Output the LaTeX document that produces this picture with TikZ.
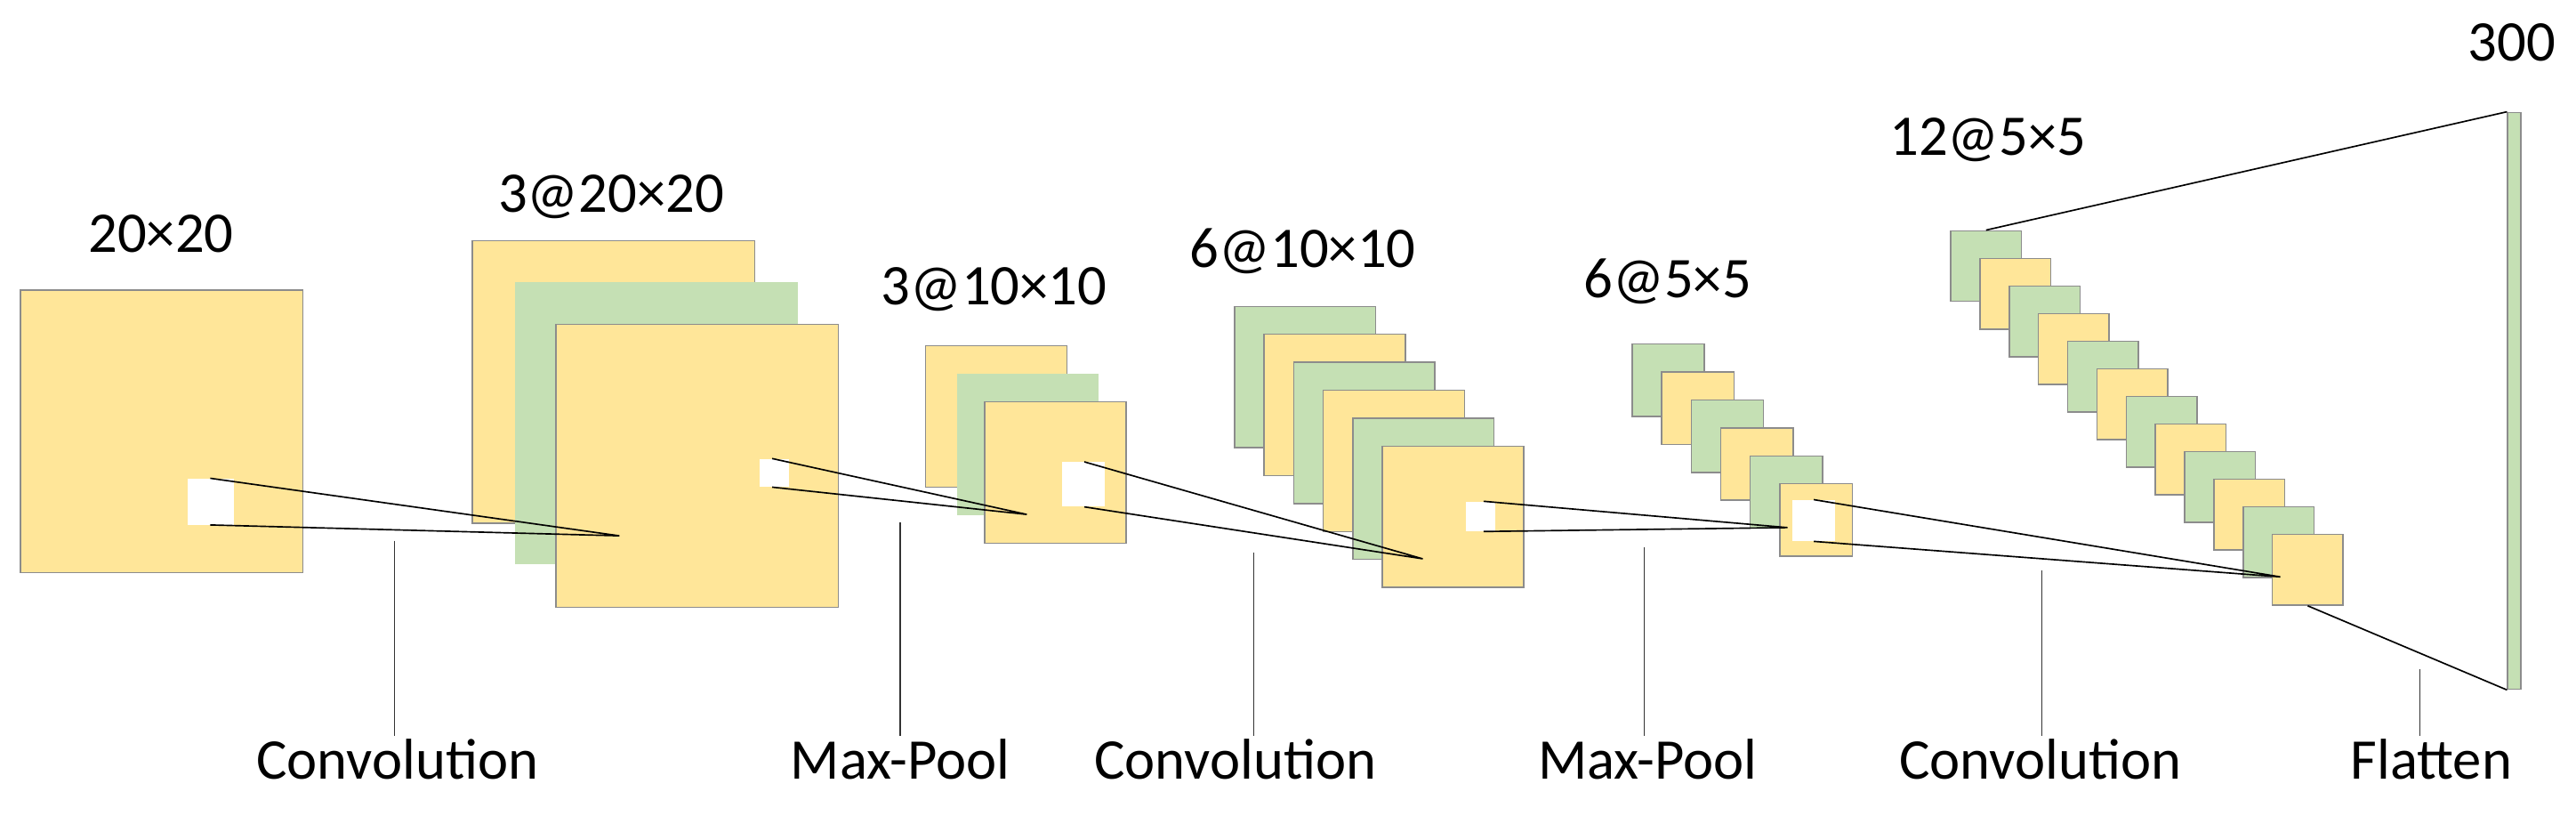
\documentclass[tikz,border=0pt]{standalone}
\usepackage{fontspec}
\setmainfont{Carlito}
\usetikzlibrary{positioning}
\definecolor{fmyellow}{HTML}{FFE699}
\definecolor{fmgreen}{HTML}{C5E0B4}
\tikzset{
  fmap/.style={draw=black!45, line width=0.8pt, anchor=north west, inner sep=0pt, minimum width=#1, minimum height=#1},
  patch/.style={fill=white, draw=none, anchor=north west, inner sep=0pt},
  lbl/.style={font=\fontsize{35}{42}\selectfont},
  link/.style={line width=0.9pt},
  tick/.style={line width=0.7pt, black!80}
}
\begin{document}
\begin{tikzpicture}[x=1pt,y=-1pt]
    \useasboundingbox (0,0) rectangle (1568,496);

    % Input
    \node[fmap=172, fill=fmyellow] (in) at (12,176) {};
    \node[lbl] (inl) at (98,142) {20×20};
    \node[patch, minimum width=28, minimum height=28] (p0) at (114,291) {};

    % Convolution 1
    \node[fmap=172, fill=fmyellow] (c1a) at (287,146) {};
    \node[fmap=172, fill=fmgreen, draw=none] (c1b) at (313,171) {};
    \node[fmap=172, fill=fmyellow] (c1c) at (338,197) {};
    \node[lbl] (c1l) at (372,120) {3@20×20};
    \node[patch, minimum width=18, minimum height=17] (p1) at (462,279) {};
    \coordinate (t1) at (377,326);

    % Max-Pool 1
    \node[fmap=86, fill=fmyellow] (m1a) at (563,210) {};
    \node[fmap=86, fill=fmgreen, draw=none] (m1b) at (582,227) {};
    \node[fmap=86, fill=fmyellow] (m1c) at (599,244) {};
    \node[lbl] (m1l) at (605,176) {3@10×10};
    \node[patch, minimum width=26, minimum height=27] (p2) at (646,281) {};
    \coordinate (t2) at (625,313);

    % Convolution 2
    \foreach \i in {0,...,5} {
        \pgfmathsetmacro{\c}{isodd(\i) ? "fmyellow" : "fmgreen"}
        \node[fmap=86, fill=\c] (c2\i) at (751+18*\i,186+17*\i) {};
    }
    \node[lbl] (c2l) at (793,153) {6@10×10};
    \node[patch, minimum width=18, minimum height=18] (p3) at (892,305) {};
    \coordinate (t3) at (866,340);

    % Max-Pool 2
    \foreach \i in {0,...,5} {
        \pgfmathsetmacro{\c}{isodd(\i) ? "fmyellow" : "fmgreen"}
        \node[fmap=44, fill=\c] (m2\i) at (993+18*\i,209+17*\i) {};
    }
    \node[lbl] (m2l) at (1015,171) {6@5×5};
    \node[patch, minimum width=26, minimum height=25] (p4) at (1091,304) {};
    \coordinate (t4) at (1088,321);

    % Convolution 3
    \foreach \i in {0,...,11} {
        \pgfmathsetmacro{\c}{isodd(\i) ? "fmyellow" : "fmgreen"}
        \node[fmap=43, fill=\c] (c3\i) at (1187+17.8*\i,140+16.8*\i) {};
    }
    \node[lbl] (c3l) at (1210,85) {12@5×5};
    \coordinate (t5) at (1388,351);

    % Flatten
    \node[draw=black!45, line width=0.8pt, fill=fmgreen, anchor=north west, inner sep=0pt,
          minimum width=8, minimum height=351] (fl) at (1526,68) {};
    \node[lbl] (fll) at (1529,26) {300};

    % Receptive fields
    \draw[link] ([xshift=14]p0.north west) -- (t1) -- ([xshift=14]p0.south west);
    \draw[link] ([xshift=8]p1.north west) -- (t2) -- ([xshift=8]p1.south west);
    \draw[link] ([xshift=14]p2.north west) -- (t3) -- ([xshift=14]p2.south west);
    \draw[link] ([xshift=11]p3.north west) -- (t4) -- ([xshift=11]p3.south west);
    \draw[link] ([xshift=13]p4.north west) -- (t5) -- ([xshift=13]p4.south west);
    \draw[link] (c30.north) -- (fl.north west);
    \draw[link] (c311.south) -- (fl.south west);

    % Operation labels
    \foreach \n/\x/\y/\t/\lx in {o1/240/329/Convolution/242, o2/548/318/Max-Pool/548,
                                 o3/763/336/Convolution/752, o4/1001/333/Max-Pool/1003,
                                 o5/1243/347/Convolution/1242, o6/1473/407/Flatten/1480} {
        \coordinate (\n t) at (\x,\y);
        \coordinate (\n b) at (\x,448);
        \node[lbl] (\n) at (\lx,462) {\t};
        \draw[tick] (\n t) -- (\n b);
    }
\end{tikzpicture}
\end{document}
